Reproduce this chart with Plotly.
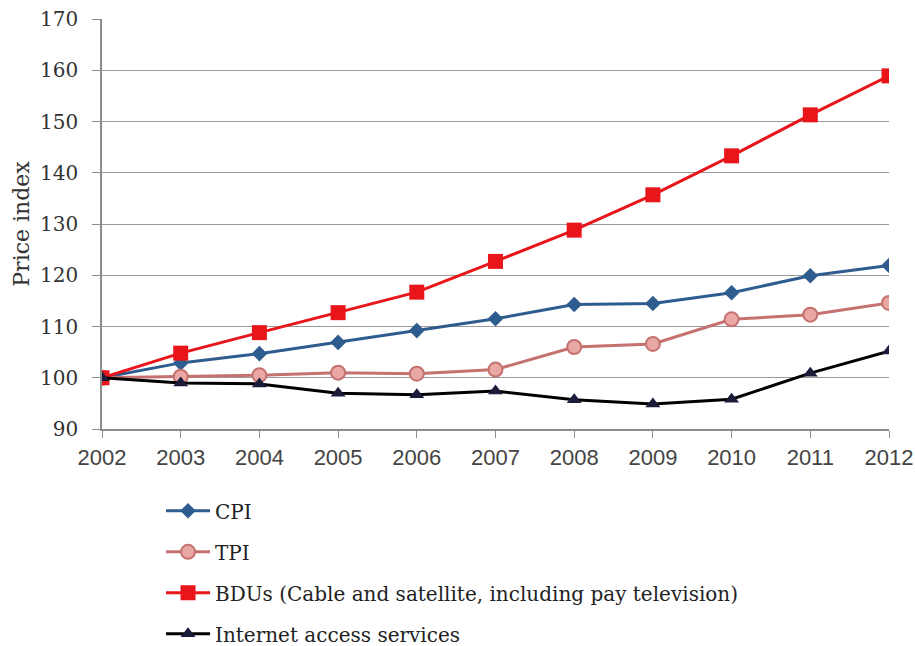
import plotly.graph_objects as go

years = [2002, 2003, 2004, 2005, 2006, 2007, 2008, 2009, 2010, 2011, 2012]
cpi = [100.0, 102.9, 104.7, 106.9, 109.2, 111.5, 114.3, 114.5, 116.6, 119.9, 121.9]
tpi = [100.0, 100.2, 100.5, 101.0, 100.8, 101.6, 106.0, 106.6, 111.4, 112.3, 114.6]
bdus = [100.0, 104.8, 108.8, 112.7, 116.7, 122.7, 128.8, 135.7, 143.3, 151.3, 158.9]
internet = [100.0, 99.0, 98.8, 97.0, 96.7, 97.4, 95.7, 94.9, 95.8, 100.9, 105.2]
y_ticks = [90, 100, 110, 120, 130, 140, 150, 160, 170]

SERIF = "DejaVu Serif, Liberation Serif, serif"
SANS = "Liberation Sans, Arial, sans-serif"

fig = go.Figure()
fig.add_trace(go.Scatter(
    x=years, y=cpi, name="CPI", mode="lines+markers", legendgroup="a",
    line=dict(color="#2F5C8E", width=3),
    marker=dict(symbol="diamond", size=12, color="#2F5C8E"),
))
fig.add_trace(go.Scatter(
    x=years, y=tpi, name="TPI", mode="lines+markers", legendgroup="b",
    line=dict(color="#C4716F", width=3),
    marker=dict(symbol="circle", size=14, color="#EAA8A5",
                line=dict(color="#C4716F", width=2)),
))
fig.add_trace(go.Scatter(
    x=years, y=bdus, name="BDUs (Cable and satellite, including pay television)",
    mode="lines+markers", legendgroup="c",
    line=dict(color="#E8161B", width=3),
    marker=dict(symbol="square", size=15, color="#E8161B"),
))
fig.add_trace(go.Scatter(
    x=years, y=internet, name="Internet access services", mode="lines+markers",
    legendgroup="d",
    line=dict(color="#000000", width=3),
    marker=dict(symbol="triangle-up", size=13, color="#1B1B3A"),
))

fig.update_layout(
    width=915, height=646,
    margin=dict(l=102, r=26, t=19, b=217, autoexpand=False),
    paper_bgcolor="white", plot_bgcolor="white",
    font=dict(family=SERIF, size=20, color="#333333"),
    showlegend=True,
    legend=dict(
        x=0.075, y=-0.152, xanchor="left", yanchor="top",
        orientation="v", tracegroupgap=12, itemwidth=44,
        borderwidth=0,
        font=dict(family=SERIF, size=20, color="#222222"),
        bgcolor="rgba(0,0,0,0)",
    ),
    xaxis=dict(
        range=[2002, 2012], tickmode="array", tickvals=years,
        ticktext=[str(y) for y in years],
        showgrid=False, zeroline=False, automargin=False,
        showline=True, linecolor="#8C8C8C", linewidth=1.5,
        ticks="outside", ticklen=7, tickcolor="#8C8C8C",
        ticklabelstandoff=1,
        tickfont=dict(family=SANS, size=22, color="#444444"),
    ),
    yaxis=dict(
        range=[90, 170], tickmode="array", tickvals=y_ticks,
        showgrid=True, gridcolor="#9A9A9A", gridwidth=1.3, zeroline=False,
        automargin=False,
        showline=True, linecolor="#8C8C8C", linewidth=1.5,
        ticks="outside", ticklen=8, tickcolor="#8C8C8C",
        ticklabelstandoff=10,
        tickfont=dict(family=SERIF, size=20, color="#333333"),
        title=dict(text="Price index", font=dict(family=SERIF, size=22, color="#333333"),
                   standoff=4),
    ),
)

fig.write_html("out.html")
